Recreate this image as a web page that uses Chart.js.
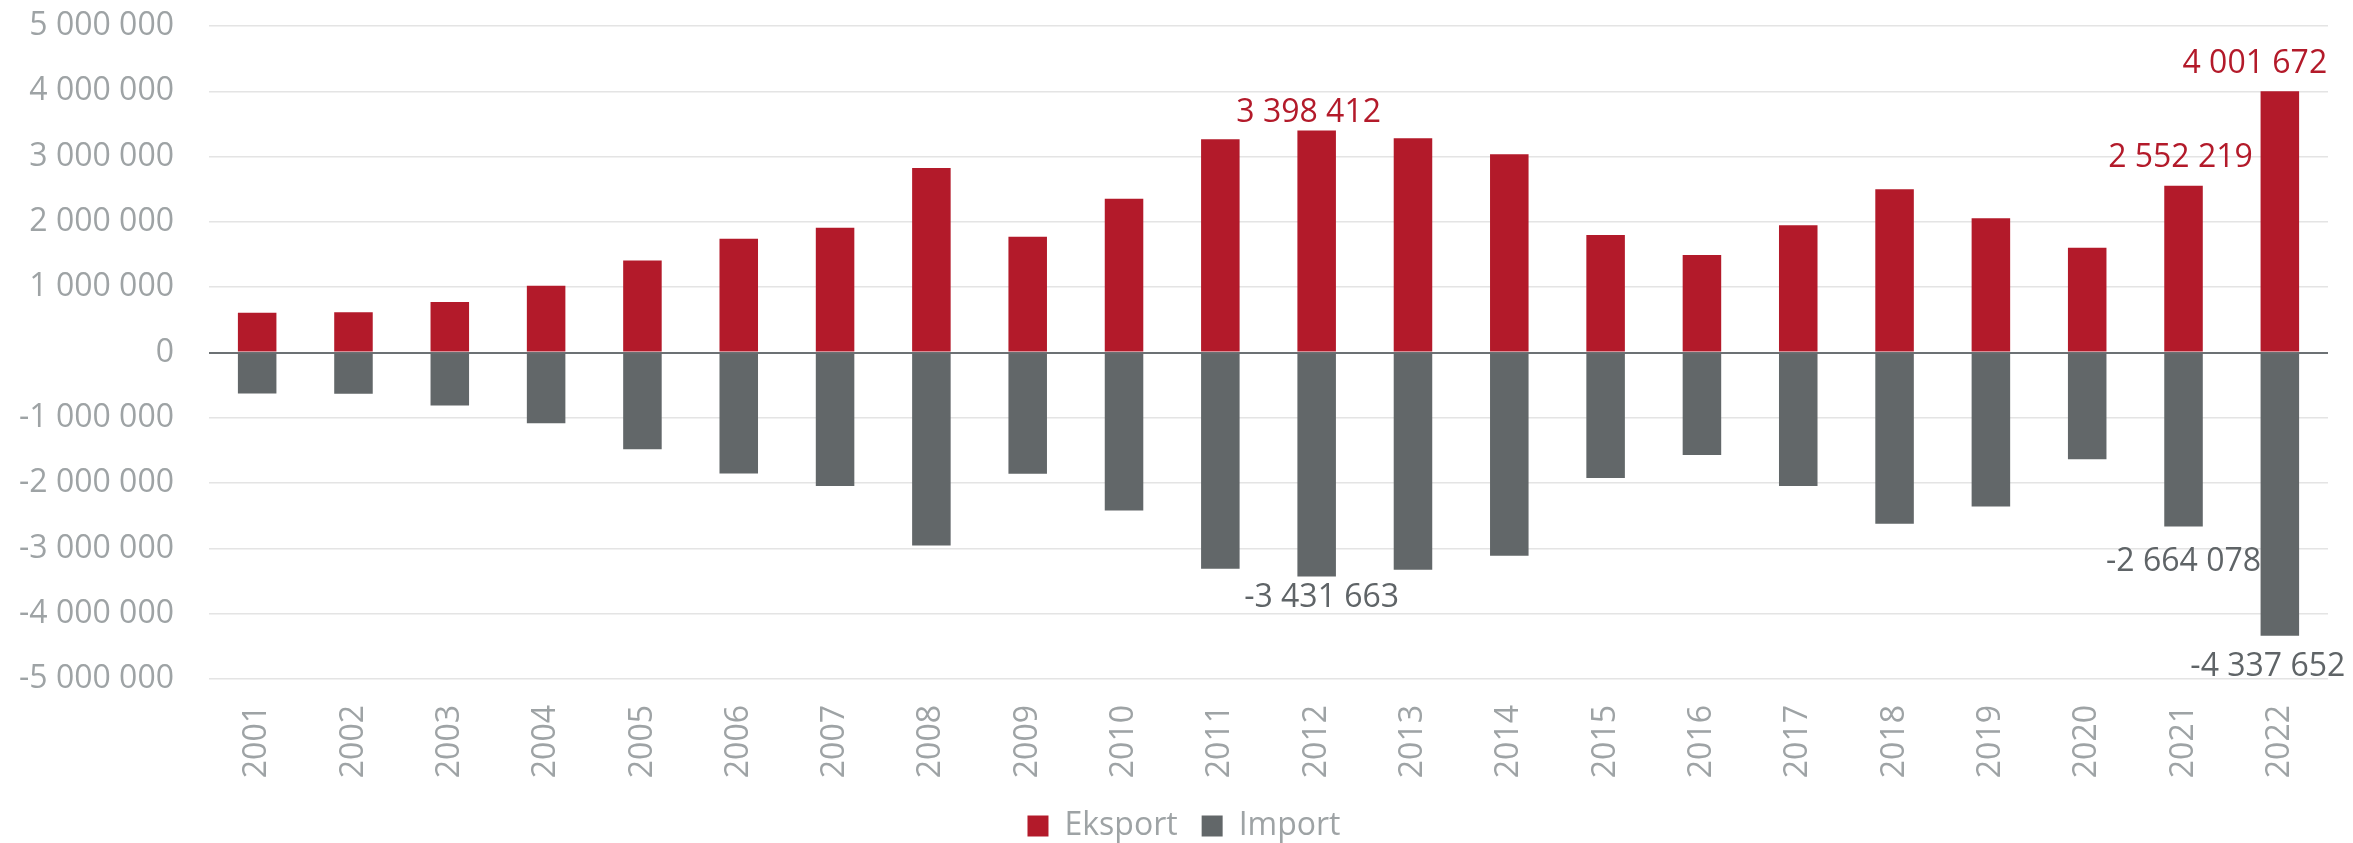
<!DOCTYPE html>
<html>
<head>
<meta charset="utf-8">
<title>Eksport i import 2001-2022</title>
<script src="https://cdn.jsdelivr.net/npm/chart.js@4.4.0/dist/chart.umd.min.js"></script>
<style>
  html, body { margin: 0; padding: 0; background: #fff; }
  #wrap { width: 2353px; height: 843px; }
</style>
</head>
<body>
<div id="wrap"><canvas id="trade-chart"></canvas></div>
<script>
// Years on the x axis
const years = ['2001', '2002', '2003', '2004', '2005', '2006', '2007', '2008', '2009', '2010', '2011',
  '2012', '2013', '2014', '2015', '2016', '2017', '2018', '2019', '2020', '2021', '2022'];

// Export (positive) and import (negative) per year
const eksport = [607000, 615000, 772000, 1022000, 1410000, 1742000, 1911000, 2826000, 1773000, 2356000, 3266000,
  3398412, 3281000, 3035000, 1799000, 1492000, 1947000, 2499000, 2054000, 1605000, 2552219, 4001672];
const importValues = [-628000, -633000, -811000, -1082000, -1480000, -1852000, -2046000, -2954000, -1857000, -2418000, -3310000,
  -3431663, -3327000, -3112000, -1923000, -1571000, -2046000, -2622000, -2357000, -1634000, -2664078, -4337652];

// Y axis range and step
const yMin = -5000000;
const yMax = 5000000;
const yStep = 1000000;

const colors = {
  eksport: '#b31a2a',
  import: '#626769',
  text: '#9ea3a5'
};
const labelColors = ['#b31a2a', '#5f6467'];
const fontFamily = '"Open Sans", "Liberation Sans", sans-serif';

// 1234567 -> "1 234 567"
function formatNumber(v) {
  const s = String(Math.round(Math.abs(v))).replace(/\B(?=(\d{3})+(?!\d))/g, ' ');
  return (v < 0 ? '-' : '') + s;
}

// Value labels on a few chosen bars (series 0 = eksport, 1 = import)
const valueLabels = {
  id: 'valueLabels',
  afterDatasetsDraw(chart, args, opts) {
    const ctx = chart.ctx;
    ctx.save();
    ctx.font = '32px ' + fontFamily;
    ctx.textAlign = 'center';
    ctx.textBaseline = 'alphabetic';
    opts.items.forEach(item => {
      const value = chart.data.datasets[item.series].data[item.index];
      const bar = chart.getDatasetMeta(item.series).data[item.index];
      const y = value >= 0 ? bar.y - item.gap : bar.y + item.gap + 23;
      ctx.fillStyle = labelColors[item.series];
      ctx.fillText(formatNumber(value), bar.x + item.dx, y);
    });
    ctx.restore();
  }
};

// Nudge the bottom legend a little to the right
const legendShift = {
  id: 'legendShift',
  afterLayout(chart, args, opts) {
    if (chart.legend) {
      chart.legend.left += opts.dx;
      chart.legend.right += opts.dx;
    }
  }
};

const ctx = document.getElementById('trade-chart').getContext('2d');
const tradeChart = new Chart(ctx, {
  type: 'bar',
  data: {
    labels: years,
    datasets: [
      { label: 'Eksport', data: eksport, backgroundColor: colors.eksport },
      { label: 'Import', data: importValues, backgroundColor: colors.import }
    ]
  },
  options: {
    responsive: true,
    maintainAspectRatio: false,
    animation: false,
    categoryPercentage: 1,
    barPercentage: 0.4,
    layout: { padding: { top: 26, right: 25, left: 0, bottom: -9 } },
    scales: {
      x: {
        stacked: true,
        grid: { display: false, drawTicks: false },
        border: { display: false },
        ticks: {
          minRotation: 90,
          maxRotation: 90,
          padding: 26,
          color: colors.text,
          font: { family: fontFamily, size: 32 }
        },
        afterFit(scale) {
          scale.height = 107;
          scale.paddingLeft = 0;
          scale.paddingRight = 0;
        }
      },
      y: {
        stacked: true,
        min: yMin,
        max: yMax,
        border: { display: false },
        grid: {
          drawTicks: false,
          color: c => (c.tick && c.tick.value === 0 ? '#6c7174' : '#e4e4e4'),
          lineWidth: c => (c.tick && c.tick.value === 0 ? 2 : 1.5)
        },
        ticks: {
          stepSize: yStep,
          padding: 35,
          color: colors.text,
          font: { family: fontFamily, size: 32 },
          callback: v => formatNumber(v)
        },
        afterFit(scale) {
          scale.width = 209;
          scale.paddingTop = 0;
          scale.paddingBottom = 0;
        }
      }
    },
    plugins: {
      legend: {
        position: 'bottom',
        labels: {
          boxWidth: 21,
          boxHeight: 21,
          padding: 24,
          color: colors.text,
          font: { family: fontFamily, size: 32 }
        }
      },
      legendShift: { dx: 20 },
      tooltip: { enabled: false },
      valueLabels: {
        items: [
          { series: 0, index: 11, dx: -8, gap: 9 },
          { series: 0, index: 20, dx: -3, gap: 19 },
          { series: 0, index: 21, dx: -25, gap: 18 },
          { series: 1, index: 11, dx: 5, gap: 7 },
          { series: 1, index: 20, dx: 0, gap: 22 },
          { series: 1, index: 21, dx: -12, gap: 17 }
        ]
      }
    }
  },
  plugins: [valueLabels, legendShift]
});
</script>
</body>
</html>
